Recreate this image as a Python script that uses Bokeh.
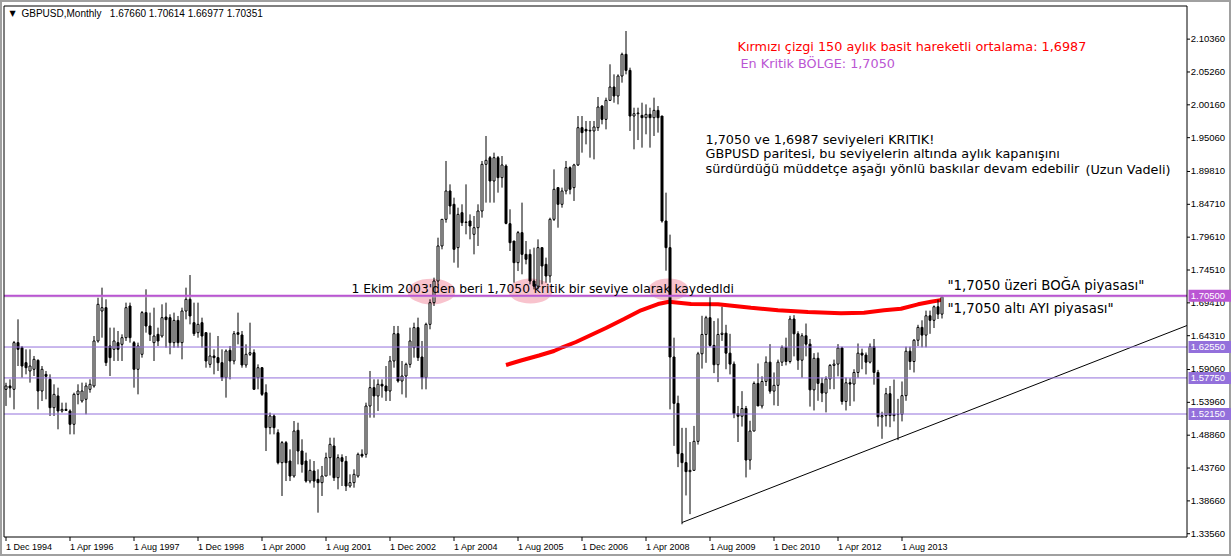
import numpy as np
from bokeh.plotting import figure
from bokeh.models import Range1d, Label, ColumnDataSource
from bokeh.core.properties import value
from bokeh.embed import file_html
from bokeh.resources import INLINE

# ---------------- data (monthly GBPUSD, Dec 1994 .. Jun 2014) ----------------
opens = [
    1.5598,
    1.5650, 1.5598, 1.6323, 1.6245, 1.6012, 1.5883, 1.5909, 1.6048, 1.5572, 1.5830, 1.5753, 1.5313,
    1.5495, 1.5262, 1.5287, 1.5262, 1.5055, 1.5520, 1.5417, 1.5443, 1.5598, 1.5650, 1.6349, 1.6814,
    1.6866, 1.6271, 1.6219, 1.6323, 1.6297, 1.6400, 1.6892, 1.6323, 1.5909, 1.6142, 1.6789, 1.6581,
    1.6323, 1.6452, 1.6426, 1.6720, 1.6711, 1.6323, 1.6669, 1.6323, 1.6814, 1.6996, 1.6633, 1.6478,
    1.6633, 1.6478, 1.5986, 1.6116, 1.6090, 1.6012, 1.5779, 1.6204, 1.6038, 1.6478, 1.6442, 1.5976,
    1.6142, 1.6167, 1.5779, 1.5934, 1.5546, 1.5003, 1.5184, 1.4925, 1.4459, 1.4770, 1.4485, 1.4252,
    1.4961, 1.4640, 1.4485, 1.4174, 1.4330, 1.4200, 1.4149, 1.4252, 1.4537, 1.4718, 1.4226, 1.4537,
    1.4480, 1.4097, 1.4149, 1.4252, 1.4589, 1.4589, 1.5339, 1.5624, 1.5495, 1.5676, 1.5650, 1.5572,
    1.6038, 1.6462, 1.5727, 1.5805, 1.5986, 1.6245, 1.6556, 1.6100, 1.5779, 1.6607, 1.6944, 1.7280,
    1.7824, 1.8238, 1.8678, 1.8471, 1.7798, 1.8341, 1.8196, 1.8212, 1.8005, 1.8108, 1.8367, 1.9092,
    1.9195, 1.8833, 1.9195, 1.8885, 1.9066, 1.8170, 1.7901, 1.7565, 1.8031, 1.7694, 1.7694, 1.7280,
    1.7200, 1.7798, 1.7539, 1.7358, 1.8238, 1.8730, 1.8471, 1.8678, 1.9040, 1.8730, 1.9082, 1.9661,
    1.9635, 1.9610, 1.9610, 1.9661, 1.9997, 1.9790, 2.0085, 2.0292, 2.0153, 2.0463, 2.0800, 2.0551,
    1.9842, 1.9878, 1.9852, 1.9816, 1.9868, 1.9816, 1.9930, 1.9842, 1.8212, 1.7798, 1.6100, 1.5380,
    1.4600, 1.4460, 1.4320, 1.4340, 1.4790, 1.6150, 1.6450, 1.6710, 1.6280, 1.5980, 1.6450, 1.6470,
    1.6160, 1.5990, 1.5220, 1.5180, 1.5300, 1.4500, 1.4950, 1.5690, 1.5340, 1.5720, 1.6020, 1.5570,
    1.5660, 1.6020, 1.6250, 1.6030, 1.6690, 1.6460, 1.6050, 1.6430, 1.6300, 1.5590, 1.6080, 1.5690,
    1.5540, 1.5760, 1.5970, 1.5990, 1.6240, 1.5410, 1.5700, 1.5680, 1.5860, 1.6160, 1.6130, 1.6020,
    1.6260, 1.5860, 1.5170, 1.5190, 1.5530, 1.5190, 1.5210, 1.5210, 1.5500, 1.6190, 1.6030, 1.6360,
    1.6560, 1.6440, 1.6740, 1.6670, 1.6880, 1.67660,
]
highs = [
    1.5700,
    1.5753, 1.6349, 1.6685, 1.6271, 1.6219, 1.6219, 1.6116, 1.6064, 1.5960, 1.5883, 1.5831, 1.5676,
    1.5624, 1.5391, 1.5391, 1.5287, 1.5546, 1.5676, 1.5702, 1.5702, 1.5753, 1.6426, 1.7021, 1.7177,
    1.6996, 1.6556, 1.6556, 1.6504, 1.6452, 1.6944, 1.6944, 1.6349, 1.6323, 1.6814, 1.7151, 1.6789,
    1.6866, 1.6556, 1.6918, 1.6944, 1.6763, 1.6789, 1.6737, 1.6866, 1.7177, 1.7373, 1.6944, 1.6944,
    1.6711, 1.6478, 1.6478, 1.6219, 1.6426, 1.6219, 1.6219, 1.6271, 1.6504, 1.6789, 1.6504, 1.6297,
    1.6633, 1.6219, 1.5986, 1.5945, 1.5676, 1.5236, 1.5210, 1.4977, 1.4796, 1.4796, 1.4666, 1.5106,
    1.5080, 1.4822, 1.4615, 1.4511, 1.4485, 1.4356, 1.4408, 1.4615, 1.4847, 1.4847, 1.4589, 1.4589,
    1.4563, 1.4278, 1.4356, 1.4615, 1.4666, 1.5391, 1.5883, 1.5753, 1.5753, 1.5753, 1.5960, 1.6116,
    1.6582, 1.6582, 1.6038, 1.6012, 1.6556, 1.6633, 1.6711, 1.6349, 1.6633, 1.6996, 1.7332, 1.7953,
    1.8238, 1.9144, 1.8781, 1.8574, 1.8419, 1.8471, 1.8781, 1.8315, 1.8290, 1.8471, 1.9144, 1.9532,
    1.9221, 1.9273, 1.9221, 1.9221, 1.9092, 1.8393, 1.7901, 1.8057, 1.8497, 1.7901, 1.7772, 1.7798,
    1.7927, 1.7798, 1.7643, 1.8263, 1.9014, 1.8730, 1.8730, 1.9144, 1.9060, 1.9100, 1.9842, 1.9842,
    1.9765, 1.9765, 1.9765, 2.0137, 2.0010, 2.0127, 2.0645, 2.0489, 2.0489, 2.0826, 2.1162, 2.0593,
    1.9971, 1.9971, 2.0049, 2.0023, 1.9971, 2.0127, 1.9997, 1.9842, 1.8652, 1.8000, 1.6400, 1.5500,
    1.5000, 1.5000, 1.4780, 1.5030, 1.6180, 1.6740, 1.6740, 1.7043, 1.6660, 1.6700, 1.6880, 1.6600,
    1.6460, 1.6030, 1.5340, 1.5570, 1.5340, 1.5110, 1.5720, 1.6000, 1.5800, 1.6110, 1.6300, 1.5860,
    1.6060, 1.6280, 1.6400, 1.6740, 1.6750, 1.6500, 1.6470, 1.6620, 1.6380, 1.6160, 1.6170, 1.5780,
    1.5800, 1.5990, 1.6060, 1.6300, 1.6260, 1.5780, 1.5770, 1.5910, 1.6310, 1.6230, 1.6170, 1.6310,
    1.6380, 1.5900, 1.5250, 1.5620, 1.5650, 1.5750, 1.5450, 1.5720, 1.6260, 1.6260, 1.6380, 1.6600,
    1.6670, 1.6820, 1.6820, 1.6900, 1.6990, 1.70614,
]
lows = [
    1.5340,
    1.5469, 1.5287, 1.5960, 1.5779, 1.5831, 1.5702, 1.5805, 1.5287, 1.5417, 1.5443, 1.5184, 1.5184,
    1.4977, 1.5236, 1.5262, 1.4899, 1.4899, 1.5365, 1.5391, 1.5210, 1.5546, 1.5624, 1.6323, 1.6400,
    1.5960, 1.5805, 1.6038, 1.6038, 1.6038, 1.6349, 1.6323, 1.5624, 1.5520, 1.6090, 1.6478, 1.6349,
    1.6038, 1.6271, 1.6400, 1.6245, 1.6142, 1.6245, 1.6245, 1.6064, 1.6685, 1.6607, 1.6426, 1.6400,
    1.6245, 1.5934, 1.5934, 1.5831, 1.5883, 1.5727, 1.5469, 1.5753, 1.5986, 1.6297, 1.5934, 1.5934,
    1.6116, 1.5598, 1.5598, 1.5495, 1.4640, 1.4899, 1.4899, 1.4433, 1.3942, 1.4174, 1.4174, 1.4226,
    1.4433, 1.4304, 1.4149, 1.4138, 1.4071, 1.3683, 1.3942, 1.4252, 1.4260, 1.4175, 1.4045, 1.4097,
    1.4019, 1.4071, 1.4071, 1.4226, 1.4537, 1.4537, 1.5158, 1.5158, 1.5262, 1.5469, 1.5417, 1.5417,
    1.5934, 1.5702, 1.5520, 1.5469, 1.5934, 1.6090, 1.6038, 1.5598, 1.5598, 1.6530, 1.6892, 1.7228,
    1.7772, 1.8186, 1.8315, 1.7565, 1.7487, 1.8134, 1.8005, 1.7927, 1.7694, 1.7824, 1.8264, 1.8497,
    1.8497, 1.8497, 1.8652, 1.8730, 1.8160, 1.7746, 1.7254, 1.7435, 1.7384, 1.7539, 1.7228, 1.7150,
    1.7150, 1.7228, 1.7254, 1.7254, 1.8212, 1.8108, 1.8419, 1.8626, 1.8626, 1.8523, 1.9066, 1.9273,
    1.9402, 1.9195, 1.9169, 1.9610, 1.9713, 1.9635, 2.0075, 2.0049, 2.0023, 2.0360, 2.0489, 1.9610,
    1.9325, 1.9469, 1.9351, 1.9558, 1.9351, 1.9532, 1.9584, 1.8186, 1.7440, 1.5287, 1.4720, 1.4390,
    1.3503, 1.3950, 1.3660, 1.4340, 1.4740, 1.5920, 1.6010, 1.6260, 1.5850, 1.5710, 1.6350, 1.5910,
    1.5830, 1.5150, 1.4780, 1.5020, 1.4230, 1.4350, 1.4950, 1.5340, 1.5300, 1.5650, 1.5530, 1.5350,
    1.5340, 1.5960, 1.5970, 1.6000, 1.6110, 1.5900, 1.5780, 1.6110, 1.5330, 1.5270, 1.5420, 1.5400,
    1.5240, 1.5600, 1.5600, 1.5800, 1.5360, 1.5270, 1.5340, 1.5410, 1.5780, 1.5910, 1.5830, 1.6000,
    1.5670, 1.5020, 1.4830, 1.5020, 1.5010, 1.5100, 1.4810, 1.5100, 1.5420, 1.5900, 1.5860, 1.6270,
    1.6250, 1.6250, 1.6460, 1.6550, 1.6690, 1.66977,
]
closes = [
    1.5650,
    1.5620, 1.6323, 1.6219, 1.5960, 1.5934, 1.5960, 1.6064, 1.5572, 1.5909, 1.5800, 1.5313, 1.5520,
    1.5262, 1.5287, 1.5270, 1.5055, 1.5520, 1.5572, 1.5572, 1.5650, 1.5676, 1.6349, 1.6918, 1.6866,
    1.6012, 1.6090, 1.6349, 1.6219, 1.6400, 1.6866, 1.6400, 1.5909, 1.6271, 1.6789, 1.6581, 1.6452,
    1.6426, 1.6349, 1.6711, 1.6680, 1.6323, 1.6669, 1.6323, 1.6814, 1.6996, 1.6737, 1.6462, 1.6607,
    1.6426, 1.6038, 1.6116, 1.6090, 1.6012, 1.5779, 1.6193, 1.6038, 1.6462, 1.6452, 1.5976, 1.6142,
    1.6167, 1.5598, 1.5934, 1.5520, 1.5003, 1.5184, 1.5003, 1.4459, 1.4770, 1.4459, 1.4252, 1.4951,
    1.4640, 1.4433, 1.4174, 1.4340, 1.4174, 1.4149, 1.4252, 1.4537, 1.4744, 1.4226, 1.4537, 1.4480,
    1.4097, 1.4149, 1.4278, 1.4589, 1.4563, 1.5339, 1.5624, 1.5495, 1.5676, 1.5650, 1.5572, 1.6038,
    1.6462, 1.5727, 1.5805, 1.5986, 1.6349, 1.6556, 1.6090, 1.5779, 1.6607, 1.6944, 1.7280, 1.7824,
    1.8238, 1.8678, 1.8445, 1.7772, 1.8315, 1.8186, 1.8190, 1.8134, 1.8108, 1.8367, 1.9092, 1.9154,
    1.8833, 1.9195, 1.8885, 1.9082, 1.8175, 1.7875, 1.7565, 1.8031, 1.7694, 1.7617, 1.7280, 1.7200,
    1.7798, 1.7513, 1.7358, 1.8238, 1.8704, 1.8471, 1.8678, 1.9040, 1.8704, 1.9082, 1.9661, 1.9584,
    1.9610, 1.9620, 1.9672, 1.9982, 1.9790, 2.0085, 2.0292, 2.0153, 2.0463, 2.0800, 2.0551, 1.9842,
    1.9878, 1.9889, 1.9816, 1.9868, 1.9816, 1.9930, 1.9816, 1.8212, 1.7798, 1.6100, 1.5380, 1.4600,
    1.4460, 1.4320, 1.4340, 1.4790, 1.6150, 1.6450, 1.6710, 1.6280, 1.5980, 1.6450, 1.6470, 1.6160,
    1.5990, 1.5220, 1.5180, 1.5300, 1.4500, 1.4950, 1.5690, 1.5340, 1.5720, 1.6020, 1.5570, 1.5660,
    1.6020, 1.6250, 1.6030, 1.6690, 1.6460, 1.6050, 1.6430, 1.6300, 1.5590, 1.6080, 1.5690, 1.5540,
    1.5760, 1.5970, 1.5990, 1.6240, 1.5410, 1.5700, 1.5680, 1.5860, 1.6160, 1.6130, 1.6020, 1.6260,
    1.5860, 1.5170, 1.5190, 1.5530, 1.5190, 1.5210, 1.5210, 1.5500, 1.6190, 1.6030, 1.6360, 1.6560,
    1.6440, 1.6740, 1.6670, 1.6880, 1.6766, 1.70351,
]

# date axis (bar index -> label)
date_ticks = [0, 16, 32, 48, 64, 80, 96, 112, 128, 144, 160, 176, 192, 208, 224]
date_labels = ["1 Dec 1994", "1 Apr 1996", "1 Aug 1997", "1 Dec 1998", "1 Apr 2000",
               "1 Aug 2001", "1 Dec 2002", "1 Apr 2004", "1 Aug 2005", "1 Dec 2006",
               "1 Apr 2008", "1 Aug 2009", "1 Dec 2010", "1 Apr 2012", "1 Aug 2013"]
price_ticks = [2.10360, 2.05260, 2.00160, 1.95060, 1.89810, 1.84710, 1.79610, 1.74510,
               1.69410, 1.64310, 1.59060, 1.53960, 1.48860, 1.43760, 1.38660, 1.33560]

# 150-month simple moving average
ma_bars = [125, 128.75, 133.25, 137, 139.25, 142.5, 146.25, 150, 154.5, 158.75, 163, 165.75,
           171.25, 178, 186.25, 193, 200.5, 208.75, 214.5, 219.5, 223.75, 228, 231.25, 234]
ma_vals = [1.5976, 1.6046, 1.6123, 1.6193, 1.6255, 1.6333, 1.6442, 1.6550, 1.6690, 1.6825,
           1.6923, 1.6959, 1.6923, 1.6918, 1.6866, 1.6825, 1.6799, 1.6779, 1.6788, 1.6825,
           1.6850, 1.6918, 1.6959, 1.6987]

key_level = 1.70500
other_levels = [1.62550, 1.57750, 1.52150]
bid_price = 1.70351

trend_bars = [169, 295.25]
trend_prices = [1.3530, 1.6589]

# highlighted zones (bar, price) on the 1.7050 line
zone_bars = [106.375, 131.125, 165.625]
zone_prices = [1.7117, 1.7125, 1.7148]
zone_w = [12, 11, 10]
zone_h = [0.040, 0.039, 0.034]

# ---------------- layout constants ----------------
W, H = 1231, 556
PX_BAR = 4.0          # pixels per monthly bar
PX_PRICE = 644.0      # pixels per 1.0 of price
x0 = -1.375
x1 = x0 + W / PX_BAR
y_top = 1.5215 + 413.5 / PX_PRICE
y_bot = y_top - H / PX_PRICE

CH_L, CH_R = -0.5, 295.25                 # chart frame (bars)
CH_T = y_top - 5.5 / PX_PRICE             # chart frame (prices)
CH_B = y_top - 536.5 / PX_PRICE

p = figure(width=W, height=H, x_range=Range1d(x0, x1), y_range=Range1d(y_bot, y_top),
           x_axis_location=None, y_axis_location=None,
           output_backend="svg", toolbar_location=None,
           min_border=0, min_border_left=0, min_border_right=0,
           min_border_top=0, min_border_bottom=0)
p.background_fill_color = "white"
p.border_fill_color = "white"
p.outline_line_color = "#A0A0A0"
p.outline_line_width = 3
p.grid.visible = False

AX_FONT = "Liberation Sans"

# highlighted zones (behind everything)
p.ellipse(x=zone_bars, y=zone_prices, width=zone_w, height=zone_h,
          fill_color="#F8C3CD", line_color=None)

# trend line
p.line(trend_bars, trend_prices, line_color="black", line_width=1)

# moving average
p.line(ma_bars, ma_vals, line_color="#FF0000", line_width=4)

# candles
o = np.array(opens); hh = np.array(highs); ll = np.array(lows); c = np.array(closes)
bars = np.arange(len(c))
body_top = np.maximum(o, c)
body_bot = np.minimum(o, c)
src = ColumnDataSource(dict(
    x=bars, hi=np.maximum(hh, body_top), lo=np.minimum(ll, body_bot),
    top=body_top, bot=body_bot,
    fill=np.where(c >= o, "white", "black"),
))
p.segment(x0="x", y0="hi", x1="x", y1="lo", source=src, line_color="black", line_width=1)
p.vbar(x="x", width=0.5, top="top", bottom="bot", source=src,
       fill_color="fill", line_color="black", line_width=1)

# horizontal levels (only across the chart area)
p.segment(x0=[CH_L], y0=[bid_price], x1=[CH_R], y1=[bid_price], line_color="#C8C8C8", line_width=1)
p.segment(x0=[CH_L], y0=[key_level], x1=[CH_R], y1=[key_level], line_color="#BA55D3", line_width=2)
n_lv = len(other_levels)
p.segment(x0=[CH_L] * n_lv, y0=other_levels, x1=[CH_R] * n_lv, y1=other_levels,
          line_color="#9370DB", line_width=1)

# chart frame
p.line([CH_L, CH_L, CH_R, CH_R, CH_L], [CH_B, CH_T, CH_T, CH_B, CH_B],
       line_color="black", line_width=1)

# price scale (right)
n_pt = len(price_ticks)
p.segment(x0=[CH_R] * n_pt, y0=price_ticks, x1=[CH_R + 0.75] * n_pt, y1=price_ticks,
          line_color="black", line_width=1)
p.text(x=[CH_R + 0.95] * n_pt, y=price_ticks, text=[f"{v:.5f}" for v in price_ticks],
       text_font=value(AX_FONT), text_font_size="9.5px", text_color="black",
       text_align="left", text_baseline="middle")

# price boxes
box_levels = [key_level] + other_levels
box_colors = ["#BA55D3"] + ["#9370DB"] * n_lv
half_h = 6.0 / PX_PRICE
p.quad(left=[CH_R + 0.375] * len(box_levels), right=[x1] * len(box_levels),
       top=[v + half_h for v in box_levels], bottom=[v - half_h for v in box_levels],
       fill_color=box_colors, line_color=None)
p.text(x=[CH_R + 0.95] * len(box_levels), y=box_levels, text=[f"{v:.5f}" for v in box_levels],
       text_font=value(AX_FONT), text_font_size="9.5px", text_color="white",
       text_align="left", text_baseline="middle")

# time scale (bottom)
n_dt = len(date_ticks)
p.segment(x0=date_ticks, y0=[CH_B] * n_dt, x1=date_ticks, y1=[CH_B - 4 / PX_PRICE] * n_dt,
          line_color="black", line_width=1)
p.text(x=date_ticks, y=[CH_B - 9.5 / PX_PRICE] * n_dt, text=date_labels,
       text_font=value(AX_FONT), text_font_size="9px", text_color="black",
       text_align="left", text_baseline="middle")

# texts
TF = "DejaVu Sans"
def txt(x, y, s, color="black", size="12.8px", font=TF, align="left"):
    p.add_layout(Label(x=x, y=y, text=s, text_color=color, text_font=font,
                       text_font_size=size, text_align=align, text_baseline="middle"))

txt(1.625, 2.1434, "\u25bc", size="8px", align="center")
txt(3.875, 2.1434, "GBPUSD,Monthly\u00a0\u00a0 1.67660 1.70614 1.66977 1.70351",
    size="10px", font=AX_FONT)

txt(182.875, 2.0921, "Kırmızı çizgi 150 aylık basit hareketli ortalama: 1,6987", color="#FF0000")
txt(183.625, 2.0651, "En Kritik BÖLGE: 1,7050", color="#BA55D3")

txt(174.875, 1.9477, "1,7050 ve 1,6987 seviyeleri KRITIK!")
txt(174.875, 1.9255, "GBPUSD paritesi, bu seviyelerin altında aylık kapanışını")
txt(174.875, 1.9032, "sürdürdüğü müddetçe aşağı yönlü baskılar devam edebilir")
txt(269.875, 1.9004, "(Uzun Vadeli)")

txt(86.375, 1.7159, "1 Ekim 2003'den beri 1,7050 kritik bir seviye olarak kaydedldi", size="12.3px")
txt(235.375, 1.7210, "\"1,7050 üzeri BOĞA piyasası\"", size="13.3px")
txt(235.375, 1.6853, "\"1,7050 altı AYI piyasası\"", size="13.3px")

open("out.html", "w").write(file_html(p, INLINE))
